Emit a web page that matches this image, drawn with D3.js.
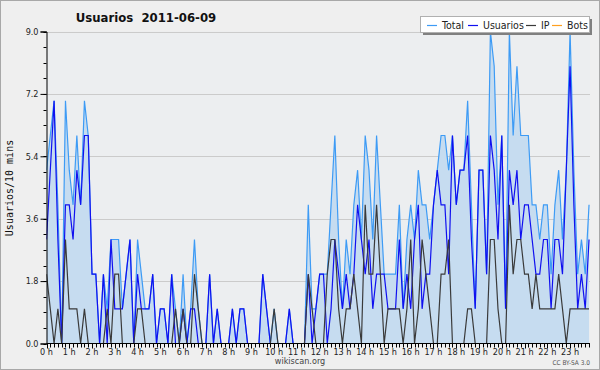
<!DOCTYPE html>
<html><head><meta charset="utf-8">
<script src="https://cdn.jsdelivr.net/npm/d3@7"></script>
<style>body{margin:0;background:#fff}svg{display:block}</style>
</head><body><svg id="c" width="600" height="370"></svg>
<script>
const titleText = "Usuarios  2011-06-09";
const yLabel = "Usuarios/10 mins";
const seriesNames = ["Total", "Usuarios", "IP", "Bots"];
const seriesColors = ["#3d9bf5", "#1010f0", "#3a3a3a", "#ffa020"];
const hourLabels = ["0 h","1 h","2 h","3 h","4 h","5 h","6 h","7 h","8 h","9 h","10 h","11 h","12 h","13 h","14 h","15 h","16 h","17 h","18 h","19 h","20 h","21 h","22 h","23 h"];
const yTicks = [0, 1.8, 3.6, 5.4, 7.2, 9.0];

const usuarios = [3,5,7,3,0,4,4,3,5,4,6,6,2,2,0,2,0,3,1,1,1,2,3,
  0,2,1,1,1,2,0,1,1,0,2,0,0,1,0,1,1,0,0,0,2,0,1,0,0,0,1,0,1,1,0,0,0,0,2,1,0,0,0,0,0,1,0,0,0,0,
  2,0,1,2,2,0,1,3,2,1,2,1,2,4,3,2,3,1,2,2,2,1,1,1,
  3,1,2,1,3,4,1,2,2,4,5,4,4,2,6,4,5,5,6,3,1,5,5,2,
  6,5,3,6,1,5,4,5,3,4,4,3,2,2,3,3,1,3,3,2,5,8,4,1,2,1,3];
const ip = [2,1,0,1,0,3,1,1,1,0,1,0,0,0,0,0,1,0,2,2,0,0,0,
  0,1,1,0,0,0,0,0,0,0,0,1,0,1,0,0,2,1,0,0,0,0,0,0,0,0,0,0,0,0,0,0,0,0,0,0,0,1,0,0,0,0,0,0,0,0,
  2,1,0,0,0,2,3,3,1,0,1,1,2,1,0,4,2,2,4,2,0,1,1,1,
  1,0,1,3,0,1,3,2,1,0,0,2,2,3,0,0,0,0,1,1,0,0,0,0,
  3,3,1,0,0,4,2,3,3,2,2,1,2,1,1,1,1,1,2,1,0,1,1,1,1,1,1];
const total = [5,6,7,4,0,7,5,4,6,4,7,6,2,2,0,2,1,3,3,3,1,2,3,
  0,3,2,1,1,2,0,1,1,0,2,1,0,2,0,1,3,1,0,0,2,0,1,0,0,0,1,0,1,1,0,0,0,0,2,1,0,1,0,0,0,1,0,0,0,0,
  4,1,1,2,2,2,4,6,3,1,3,2,4,5,3,6,5,3,6,4,2,2,2,2,
  4,1,3,4,3,5,4,4,3,4,5,6,6,5,6,4,5,5,7,4,1,5,5,2,
  9,8,4,6,1,9,6,8,6,6,6,4,4,3,4,4,2,4,5,3,5,9,5,2,3,2,4];
const bots = [0,0,0,0,0,0,0,0,0,0,0,0,0,0,0,0,0,0,0,0,0,0,0,0,
  0,0,0,0,0,0,0,0,0,0,0,0,0,0,0,0,0,0,0,0,0,0,0,0,
  0,0,0,0,0,0,0,0,0,0,0,0,0,0,0,0,0,0,0,0,0,0,0,0,
  0,0,0,0,0,0,0,0,0,0,0,0,0,0,0,0,0,0,0,0,0,0,0,0,
  0,0,0,0,0,0,0,0,0,0,0,0,0,0,0,0,0,0,0,0,0,0,0,0,
  0,0,0,0,0,0,0,0,0,0,0,0,0,0,0,0,0,0,0,0,0,0,0,0];

const W = 600, H = 370;
const L = 46.5, R = 590, T = 31.5, B = 343.5;
const svg = d3.select("#c");
const font = "'DejaVu Sans Condensed','DejaVu Sans',sans-serif";

svg.append("rect").attr("x",0.5).attr("y",0.5).attr("width",W-1).attr("height",H-1)
  .attr("fill","#efefef").attr("stroke","#a8a8a8");
svg.append("rect").attr("x",L).attr("y",T).attr("width",R-L).attr("height",B-T).attr("fill","#eceef0");

const x = d3.scaleLinear().domain([0,144]).range([L, L + 144*3.794]);
const y = d3.scaleLinear().domain([0,9]).range([B, T]);

// grid
svg.append("g").selectAll("line").data(yTicks.filter(d=>d>0)).join("line")
  .attr("x1",L).attr("x2",R).attr("y1",d=>Math.round(y(d))+0.5).attr("y2",d=>Math.round(y(d))+0.5)
  .attr("stroke","#cbcbcb").attr("stroke-width",1);

const idx = d3.range(total.length);
svg.append("defs").append("clipPath").attr("id","pc").append("rect")
  .attr("x",L).attr("y",T-3).attr("width",R-L+1).attr("height",B-T+3);
const g = svg.append("g").attr("clip-path","url(#pc)");

const area = d3.area().x(i=>x(i)).y0(B).y1(i=>y(total[i]));
g.append("path").datum(idx).attr("d",area).attr("fill","#c6dcf0");
function lineFor(arr){ return d3.line().x(i=>x(i)).y(i=>y(arr[i])); }
const seriesData = [total, usuarios, ip, bots];
seriesData.forEach((arr,k)=>{
  g.append("path").datum(idx).attr("d",lineFor(arr)).attr("fill","none")
    .attr("stroke",seriesColors[k]).attr("stroke-width",1.2).attr("stroke-linejoin","miter");
});

// y axis
const yAxis = d3.axisLeft(y).tickValues(yTicks).tickFormat(d3.format(".1f")).tickSize(6).tickPadding(2);
const ya = svg.append("g").attr("transform",`translate(${L},0)`).call(yAxis);
ya.select(".domain").attr("stroke","#000");
ya.selectAll("text").attr("font-family",font).attr("font-size",9).attr("fill","#222");
const minorY = d3.range(0, 9.001, 0.45);
svg.append("g").selectAll("line").data(minorY).join("line")
  .attr("x1",L-3).attr("x2",L).attr("y1",d=>Math.round(y(d))+0.5).attr("y2",d=>Math.round(y(d))+0.5)
  .attr("stroke","#000");

// x axis
const xa = svg.append("g").attr("transform",`translate(0,${B})`);
xa.append("line").attr("x1",L).attr("x2",R).attr("y1",0).attr("y2",0).attr("stroke","#000");
xa.selectAll("line.t").data(idx).join("line").attr("class","t")
  .attr("x1",i=>Math.round(x(i))+0.5).attr("x2",i=>Math.round(x(i))+0.5)
  .attr("y1",0).attr("y2",i=>i%6===0?5:4).attr("stroke","#000");
xa.selectAll("text").data(hourLabels).join("text")
  .attr("x",(d,h)=>x(h*6)).attr("y",11).attr("text-anchor","middle")
  .attr("font-family",font).attr("font-size",9).attr("fill","#222").text(d=>d);

// y label
svg.append("text").attr("transform","translate(13,188) rotate(-90)").attr("text-anchor","middle")
  .attr("font-family","'DejaVu Sans Mono',monospace").attr("font-size",10).attr("fill","#111").text(yLabel);

// title
svg.append("text").attr("x",146).attr("y",22).attr("text-anchor","middle")
  .style("white-space","pre").attr("xml:space","preserve")
  .attr("font-family",font).attr("font-weight","bold").attr("font-size",13).attr("fill","#111").text(titleText);

// legend
const lg = svg.append("g");
lg.append("rect").attr("x",423).attr("y",19).attr("width",169).attr("height",16).attr("fill","#808080");
lg.append("rect").attr("x",420.5).attr("y",16.5).attr("width",169).attr("height",16).attr("fill","#fff").attr("stroke","#b0b0b0");
const lx = [427, 468, 526, 552];
seriesNames.forEach((n,k)=>{
  lg.append("line").attr("x1",lx[k]).attr("x2",lx[k]+10).attr("y1",25.5).attr("y2",25.5)
    .attr("stroke",seriesColors[k]).attr("stroke-width",1.2);
  lg.append("text").attr("x",lx[k]+15).attr("y",29).attr("font-family",font).attr("font-size",10.5)
    .attr("fill","#222").text(n);
});

svg.append("text").attr("x",300).attr("y",364).attr("text-anchor","middle")
  .attr("font-family",font).attr("font-size",9).attr("fill","#444").text("wikiscan.org");
svg.append("text").attr("x",590).attr("y",365).attr("text-anchor","end")
  .attr("font-family",font).attr("font-size",6.5).attr("fill","#555").text("CC BY-SA 3.0");
</script></body></html>
